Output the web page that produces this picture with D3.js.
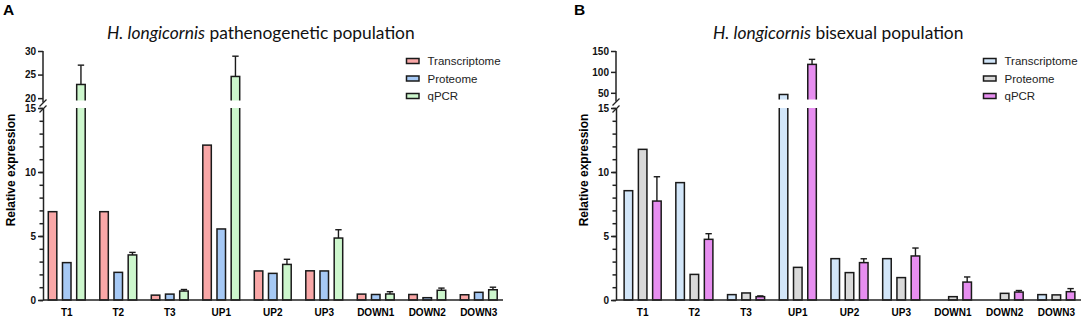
<!DOCTYPE html>
<html>
<head>
<meta charset="utf-8">
<script src="https://cdn.jsdelivr.net/npm/d3@7"></script>
<style>
  body { margin: 0; background: #fff; }
  svg { display: block; }
  .axis path, .axis line { stroke: #222; stroke-width: 1.5px; }
  .axis text { font-family: "Liberation Sans", Arial, sans-serif; font-weight: bold; font-size: 10px; fill: #111; }
</style>
</head>
<body>
<div id="chart"></div>
<script>
var categories = ["T1", "T2", "T3", "UP1", "UP2", "UP3", "DOWN1", "DOWN2", "DOWN3"];
var seriesNames = ["Transcriptome", "Proteome", "qPCR"];

// panel A - pathenogenetic population
var aTranscriptome = [6.9, 6.9, 0.38, 12.1, 2.27, 2.28, 0.46, 0.43, 0.41];
var aProteome = [2.92, 2.16, 0.46, 5.55, 2.08, 2.27, 0.43, 0.18, 0.6];
var aQpcr = [22.9, 3.52, 0.7, 24.6, 2.78, 4.84, 0.47, 0.76, 0.8];
var aQpcrErr = [4.1, 0.2, 0.12, 4.3, 0.4, 0.65, 0.18, 0.17, 0.2];

// panel B - bisexual population
var bTranscriptome = [8.54, 9.17, 0.42, 46, 3.23, 3.23, 0, 0, 0.42];
var bProteome = [11.77, 2.0, 0.55, 2.55, 2.14, 1.75, 0.26, 0.52, 0.4];
var bQpcr = [7.73, 4.74, 0.26, 118, 2.92, 3.44, 1.4, 0.62, 0.65];
var bQpcrErr = [1.9, 0.44, 0.06, 12, 0.3, 0.62, 0.4, 0.12, 0.24];

var lowTicks = [0, 5, 10, 15];
var aHighTicks = [20, 25, 30];
var bHighTicks = [50, 100, 150];

var W = 1084, H = 320;
var svg = d3.select("#chart").append("svg").attr("width", W).attr("height", H);
var defs = svg.append("defs");

function drawPanel(o) {
    var g = svg.append("g");
    var yLow = d3.scaleLinear().domain([0, 15]).range([300, 108]);
    var yHigh = d3.scaleLinear().domain(o.highDomain).range([o.highBottom, 51]);
    var x = d3.scaleBand().domain(categories).range(o.xRange);
    var xi = d3.scaleBand().domain(seriesNames).range([-x.step() * 0.4135, x.step() * 0.4135])
        .paddingInner(0.4).paddingOuter(0.2);
    var color = d3.scaleOrdinal().domain(seriesNames).range(o.colors);

    var rows = [];
    o.series.forEach(function (vals, si) {
        vals.forEach(function (v, ci) {
            rows.push({cat: categories[ci], name: seriesNames[si], v: v,
                err: si == 2 ? o.err[ci] : 0});
        });
    });
    rows = rows.filter(function (d) { return d.v > 0; });

    // clip regions for the broken axis
    var lowId = "clipLow" + o.id, highId = "clipHigh" + o.id;
    defs.append("clipPath").attr("id", lowId).append("rect")
        .attr("x", o.xRange[0]).attr("y", yLow(15)).attr("width", 600).attr("height", 300 - yLow(15) + 2);
    defs.append("clipPath").attr("id", highId).append("rect")
        .attr("x", o.xRange[0]).attr("y", 30).attr("width", 600).attr("height", o.highBottom - 30);

    function bx(d) { return x(d.cat) + x.bandwidth() / 2 + xi(d.name); }

    g.append("g").attr("clip-path", "url(#" + lowId + ")")
        .selectAll("rect").data(rows).enter().append("rect")
        .attr("x", bx)
        .attr("width", xi.bandwidth())
        .attr("y", function (d) { return Math.max(yLow(d.v), 90); })
        .attr("height", function (d) { return 300 - Math.max(yLow(d.v), 90); })
        .attr("fill", function (d) { return color(d.name); })
        .attr("stroke", "#1a1a1a").attr("stroke-width", 1.5);

    var highRows = rows.filter(function (d) { return d.v > o.highDomain[0]; });
    g.append("g").attr("clip-path", "url(#" + highId + ")")
        .selectAll("rect").data(highRows).enter().append("rect")
        .attr("x", bx)
        .attr("width", xi.bandwidth())
        .attr("y", function (d) { return yHigh(d.v); })
        .attr("height", function (d) { return o.highBottom + 6 - yHigh(d.v); })
        .attr("fill", function (d) { return color(d.name); })
        .attr("stroke", "#1a1a1a").attr("stroke-width", 1.5);

    // error bars (upper only)
    function ys(v) { return v > 15 ? yHigh(v) : yLow(v); }
    var errRows = rows.filter(function (d) { return d.err > 0; });
    var eg = g.append("g").attr("stroke", "#1a1a1a").attr("stroke-width", 1.4);
    errRows.forEach(function (d) {
        var cx = bx(d) + xi.bandwidth() / 2;
        eg.append("line").attr("x1", cx).attr("x2", cx)
            .attr("y1", ys(d.v)).attr("y2", ys(d.v + d.err));
        eg.append("line").attr("x1", cx - 3.2).attr("x2", cx + 3.2)
            .attr("y1", ys(d.v + d.err)).attr("y2", ys(d.v + d.err));
    });

    // y axes
    var ax = o.axisX;
    g.append("g").attr("class", "axis")
        .attr("transform", "translate(" + ax + ",0)")
        .call(d3.axisLeft(yLow).tickValues(d3.range(0, 16)).tickSize(3.5).tickSizeOuter(0).tickFormat(""));
    g.append("g").attr("class", "axis")
        .attr("transform", "translate(" + ax + ",0)")
        .call(d3.axisLeft(yLow).tickValues(lowTicks).tickSize(5).tickSizeOuter(0).tickPadding(2))
        .select(".domain").remove();
    var hg = g.append("g").attr("class", "axis")
        .attr("transform", "translate(" + ax + ",0)")
        .call(d3.axisLeft(yHigh).tickValues(o.highTicks).tickSize(5).tickSizeOuter(0).tickPadding(2));
    hg.select(".domain").attr("d", "M0," + (o.highBottom + 2) + "V51");

    // break marks
    var br = g.append("g").attr("stroke", "#222").attr("stroke-width", 1.3);
    [o.highBottom + 2.5, yLow(15) + 1].forEach(function (yy) {
        br.append("line").attr("x1", ax - 3.5).attr("x2", ax + 3.5)
            .attr("y1", yy + 3.5).attr("y2", yy - 3.5);
    });

    // x axis
    g.append("line").attr("x1", ax).attr("x2", o.xEnd).attr("y1", 300).attr("y2", 300)
        .attr("stroke", "#222").attr("stroke-width", 1.5);
    g.selectAll(".xlab").data(categories).enter().append("text")
        .attr("x", function (d) { return x(d) + x.bandwidth() / 2; })
        .attr("y", 316)
        .attr("text-anchor", "middle")
        .style("font-family", "Liberation Sans, Arial, sans-serif")
        .style("font-weight", "bold").style("font-size", "10px")
        .text(function (d) { return d; });

    // y label
    g.append("text")
        .attr("transform", "translate(" + (o.axisX - 28) + ",170) rotate(-90)")
        .attr("text-anchor", "middle")
        .style("font-family", "Liberation Sans, Arial, sans-serif")
        .style("font-weight", "bold").style("font-size", "12px")
        .text("Relative expression");

    // title
    var t = g.append("text").attr("x", o.titleX).attr("y", 39)
        .style("font-family", "Lato, sans-serif").style("font-size", "17.4px").attr("fill", "#111");
    t.append("tspan").style("font-style", "italic").text("H. longicornis");
    t.append("tspan").text(" " + o.title);

    // panel letter
    g.append("text").attr("x", o.letterX).attr("y", 15)
        .style("font-family", "Liberation Sans, Arial, sans-serif")
        .style("font-weight", "bold").style("font-size", "15.5px")
        .text(o.letter);

    // legend
    var lg = g.append("g").attr("transform", "translate(" + o.legendX + ",61)");
    seriesNames.forEach(function (s, i) {
        lg.append("rect").attr("x", 0).attr("y", i * 17.5 - 2.5).attr("width", 12.5).attr("height", 5)
            .attr("fill", color(s)).attr("stroke", "#1a1a1a").attr("stroke-width", 1.5);
        lg.append("text").attr("x", 21).attr("y", i * 17.5).attr("dy", "0.35em")
            .style("font-family", "Liberation Sans, Arial, sans-serif").style("font-size", "11.5px")
            .attr("fill", "#222")
            .text(s);
    });
}

drawPanel({
    id: "A", letter: "A", letterX: 3, title: "pathenogenetic population", titleX: 107,
    series: [aTranscriptome, aProteome, aQpcr], err: aQpcrErr,
    colors: ["#f9a7a7", "#a6c9f5", "#cdf7cd"],
    highDomain: [19.5, 30], highBottom: 100.5, highTicks: aHighTicks,
    axisX: 43, xRange: [41, 504.5], xEnd: 503, legendX: 406.5
});
drawPanel({
    id: "B", letter: "B", letterX: 574, title: "bisexual population", titleX: 713,
    series: [bTranscriptome, bProteome, bQpcr], err: bQpcrErr,
    colors: ["#d2e6f9", "#d9d9d9", "#e78ef0"],
    highDomain: [34, 150], highBottom: 99.5, highTicks: bHighTicks,
    axisX: 616, xRange: [616.8, 1082.2], xEnd: 1081, legendX: 983.5
});
</script>
</body>
</html>
